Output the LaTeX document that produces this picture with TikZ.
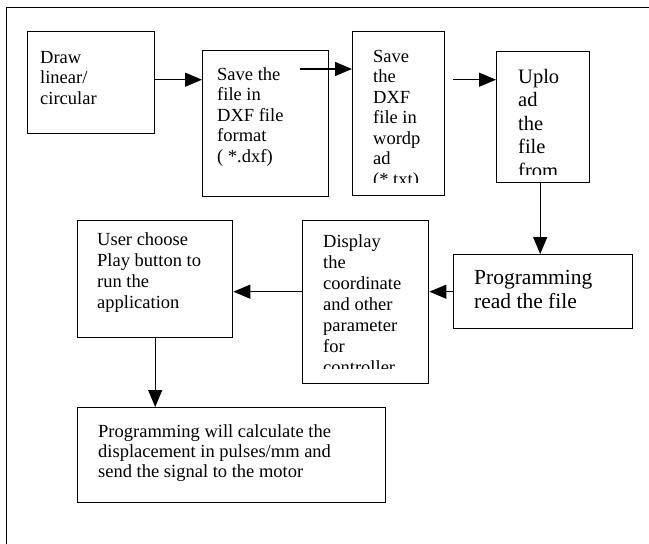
\documentclass[tikz,border=0pt]{standalone}
\usepackage{fontspec}
\setmainfont{Liberation Serif}
\usetikzlibrary{arrows.meta,calc}

\tikzset{
	box/.style={draw,line width=1.4pt,anchor=north west,inner sep=0pt},
	txt/.style={anchor=north west,align=left,inner sep=0pt,font=\fontsize{18.5}{20.5}\selectfont},
	arr/.style={line width=1.4pt,-{Triangle[length=17pt,width=14pt]}}
}

\begin{document}
\begin{tikzpicture}[x=1pt,y=-1pt]
		\useasboundingbox (0,0) rectangle (649,544);
		\draw[line width=1pt] (6,544) -- (6,7) -- (649,7);
		
		\node[box,minimum width=127,minimum height=102] (drw) at (27,31) {};
		\node[box,minimum width=126,minimum height=146] (save) at (202,50) {};
		\node[box,minimum width=92,minimum height=164] (dxf) at (352,31) {};
		\node[box,minimum width=93,minimum height=131] (upload) at (496,51) {};
		\node[box,minimum width=179,minimum height=74] (progread) at (453,254) {};
		\node[box,minimum width=126,minimum height=163] (display) at (302,220) {};
		\node[box,minimum width=155,minimum height=117] (user) at (77,220) {};
		\node[box,minimum width=308,minimum height=95] (calc) at (77,407) {};
		
		\node[txt] (drwtxt) at ([shift={(13,20)}]drw.north west) {Draw\\linear/\\circular};
		\node[txt] (savetxt) at ([shift={(15,17)}]save.north west) {Save the\\file in\\DXF file\\format\\( *.dxf)};
		\begin{scope}
			\clip (dxf.north west) rectangle ([yshift=14pt]dxf.south east);
			\node[txt] (dxftxt) at ([shift={(21,19)}]dxf.north west) {Save\\the\\DXF\\file in\\wordp\\ad\\(*.txt)};
		\end{scope}
		\begin{scope}
			\clip (upload.north west) rectangle ([yshift=9pt]upload.south east);
			\node[txt,font=\fontsize{20.5}{23.5}\selectfont] (uploadtxt) at ([shift={(22,18)}]upload.north west) {Uplo\\ad\\the\\file\\from};
		\end{scope}
		\node[txt,font=\fontsize{21.5}{24}\selectfont] (progreadtxt) at ([shift={(21,16)}]progread.north west) {Programming\\read the file};
		\begin{scope}
			\clip (display.north west) rectangle ([yshift=16pt]display.south east);
			\node[txt,font=\fontsize{18.5}{21}\selectfont] (displaytxt) at ([shift={(21,14)}]display.north west) {Display\\the\\coordinate\\and other\\parameter\\for\\controller};
		\end{scope}
		\node[txt,font=\fontsize{18.5}{21}\selectfont] (usertxt) at ([shift={(20,12)}]user.north west) {User choose\\Play button to\\run the\\application};
		\node[txt,font=\fontsize{18.5}{20}\selectfont] (calctxt) at ([shift={(21,17)}]calc.north west) {Programming will calculate the\\displacement in pulses/mm and\\send the signal to the motor};
		
		\coordinate (a1) at ([yshift=3pt]drw.east);
		\coordinate (a2) at ([shift={(98,19)}]save.north west);
		\coordinate (a3) at ([xshift=8pt,yshift=34pt]dxf.east);
		\coordinate (a4) at ([xshift=-3pt]upload.south);
		\draw[arr] (a1) -- (a1 -| save.west);
		\draw[arr] (a2) -- (a2 -| dxf.west);
		\draw[arr] (a3) -- (a3 -| upload.west);
		\draw[arr] (a4) -- (a4 |- progread.north);
		\draw[arr] (progread.west) -- (progread.west -| display.east);
		\draw[arr] (progread.west -| display.west) -- (progread.west -| user.east);
		\draw[arr] (user.south) -- (user.south |- calc.north);
\end{tikzpicture}
\end{document}
